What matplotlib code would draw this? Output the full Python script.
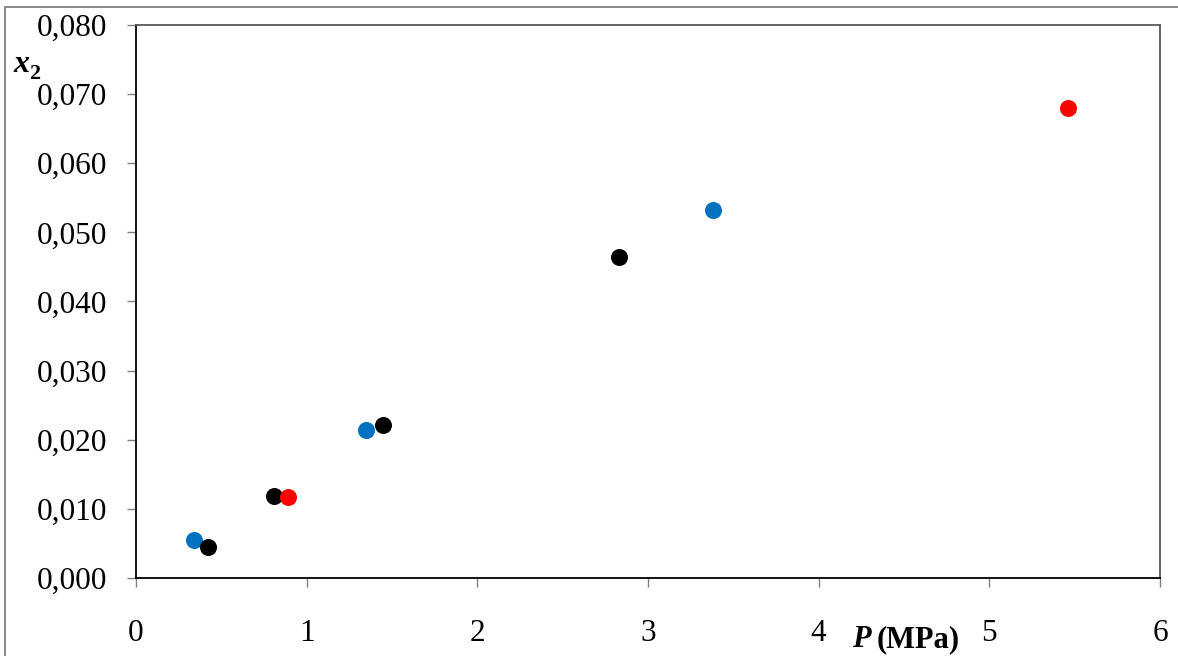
import matplotlib.pyplot as plt
from matplotlib.patches import Rectangle
from matplotlib.ticker import FuncFormatter, MultipleLocator

# pressure (MPa) and mole fraction x2 for three series
p_blue = [0.34, 1.35, 3.38]
x2_blue = [0.0055, 0.0214, 0.0532]
p_black = [0.42, 0.81, 1.45, 2.83]
x2_black = [0.0045, 0.0119, 0.0221, 0.0464]
p_red = [0.89, 5.46]
x2_red = [0.0117, 0.0680]

plt.rcParams['font.family'] = ['Liberation Serif', 'DejaVu Serif']

fig = plt.figure(figsize=(11.78, 6.56), dpi=100)
ax = fig.add_axes([0.1154, 0.1189, 0.8693, 0.8430])

ax.scatter(p_blue, x2_blue, s=150, color='#0070C0', zorder=3, linewidths=0)
ax.scatter(p_black, x2_black, s=150, color='black', zorder=3, linewidths=0)
ax.scatter(p_red, x2_red, s=150, color='#FF0000', zorder=3, linewidths=0)

ax.set_xlim(0, 6)
ax.set_ylim(0, 0.08)
ax.xaxis.set_major_locator(MultipleLocator(1))
ax.yaxis.set_major_locator(MultipleLocator(0.01))
ax.yaxis.set_major_formatter(FuncFormatter(lambda v, pos: f"{v:.3f}".replace('.', ',')))
ax.tick_params(direction='out', length=6.5, width=1, color='#808080',
               labelsize=22.5)
ax.tick_params(axis='y', pad=14)
ax.tick_params(axis='x', pad=23)

ax.spines['left'].set_color('black')
ax.spines['bottom'].set_color('black')
ax.spines['top'].set_color('#595959')
ax.spines['right'].set_color('#595959')
for s in ax.spines.values():
    s.set_linewidth(1.3)

# axis titles, placed by hand like the original spreadsheet chart
renderer = fig.canvas.get_renderer()
tp = fig.text(0.7233, 0.0137, 'P', fontsize=22, fontweight='bold',
              fontstyle='italic', ha='left', va='baseline')
bb = tp.get_window_extent(renderer)
fig.text(bb.x1 / fig.bbox.width + 0.005, 0.0137, '(MPa)', fontsize=22,
         fontweight='bold', ha='left', va='baseline')

tx = fig.text(0.011, 0.890, 'x', fontsize=23, fontweight='bold',
              fontstyle='italic', ha='left', va='baseline')
bb = tx.get_window_extent(renderer)
fig.text(bb.x1 / fig.bbox.width, 0.880, '2', fontsize=16, fontweight='bold',
         ha='left', va='baseline')

# thin frame around the whole chart area
fig.patches.append(Rectangle((0.0042, -0.02), 1.05, 0.9893 + 0.02,
                             transform=fig.transFigure, fill=False,
                             edgecolor='#7f7f7f', linewidth=1.3))

fig.savefig('out.png', dpi=100)
